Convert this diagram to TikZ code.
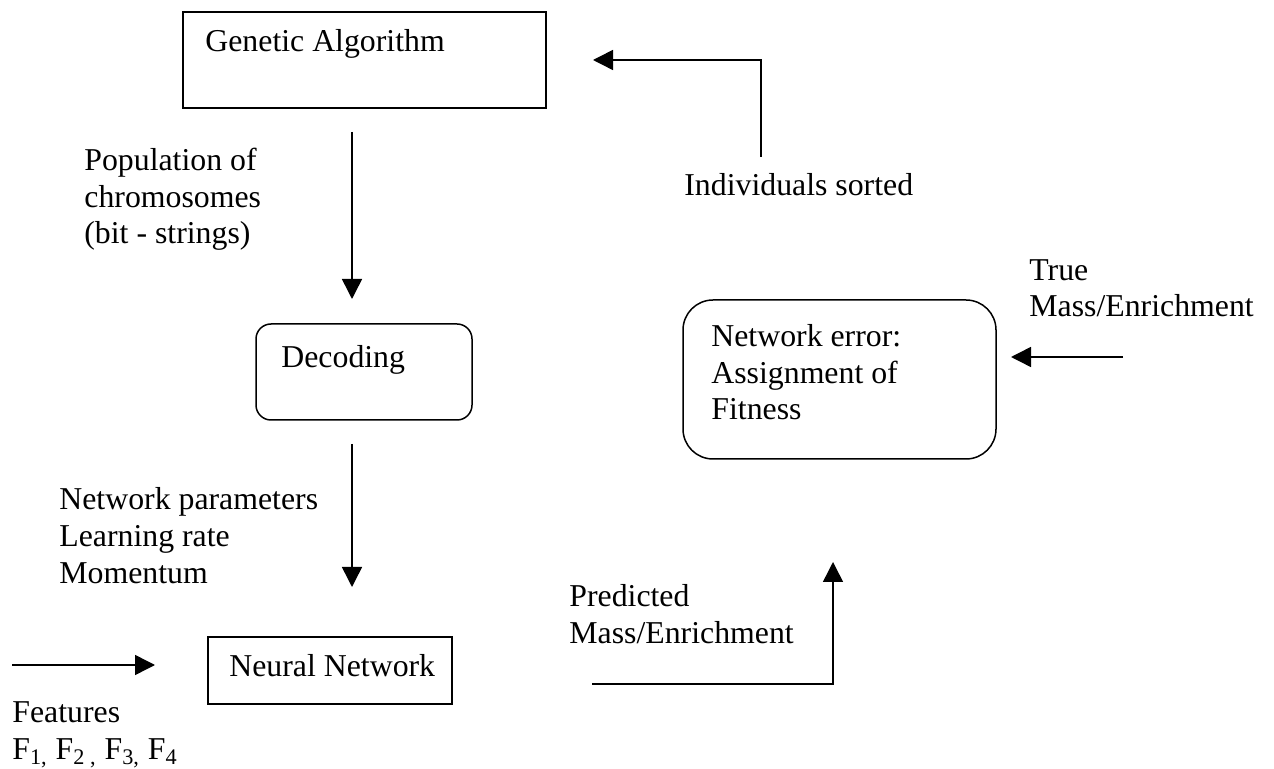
\documentclass[tikz,border=0pt]{standalone}
\usepackage{fontspec}
\setmainfont{Liberation Serif}
\usetikzlibrary{arrows.meta}
\begin{document}
\begin{tikzpicture}[x=0.5pt,y=-0.5pt,
  lbl/.style={anchor=base west,inner sep=0pt,align=left,font=\fontsize{15.9}{18.4}\selectfont},
  sqbox/.style={draw,line width=0.75pt,inner sep=0pt},
  rbox/.style={draw,line width=0.75pt,inner sep=0pt,rounded corners=#1},
  arr/.style={line width=0.75pt,-{Triangle[length=10pt,width=10pt]}}]
\useasboundingbox (0,0) rectangle (1274,769);
% boxes
\node[sqbox,minimum width=181.5pt,minimum height=48pt] (ga) at (364.5,60) {};
\node[lbl] (gat) at (205,52) {Genetic Algorithm};
\node[rbox=7.5pt,minimum width=108pt,minimum height=48pt] (dec) at (364,372) {};
\node[lbl] (dect) at (281,368) {Decoding};
\node[sqbox,minimum width=122pt,minimum height=33.5pt] (nn) at (330,670.5) {};
\node[lbl] (nnt) at (229,676) {Neural Network};
\node[rbox=15pt,minimum width=156.5pt,minimum height=79.5pt] (err) at (839.5,379.5) {};
% multi-line labels: anchor is the baseline of the last line
\node[lbl] (errt) at (711,420) {Network error:\\Assignment of\\Fitness};
\node[lbl] (pop) at (84,244) {Population of\\chromosomes\\(bit - strings)};
\node[lbl] (par) at (59,583) {Network parameters\\Learning rate\\Momentum};
\node[lbl] (ind) at (684,196) {Individuals sorted};
\node[lbl] (tru) at (1029,317) {True\\Mass/Enrichment};
\node[lbl] (pre) at (569,643) {Predicted\\Mass/Enrichment};
\node[lbl] (fea) at (12,759) {Features\\F\textsubscript{1,} F\textsubscript{2 ,} F\textsubscript{3,} F\textsubscript{4}};
% connector ends
\coordinate (a1s) at (352,132);
\coordinate (a1e) at (352,299);
\coordinate (a2s) at (352,444);
\coordinate (a2e) at (352,587);
\coordinate (a3s) at (761,157);
\coordinate (a3c) at (761,60);
\coordinate (a3e) at (593,60);
\coordinate (a4s) at (1123,357);
\coordinate (a4e) at (1011,357);
\coordinate (a5s) at (592,684);
\coordinate (a5c) at (833,684);
\coordinate (a5e) at (833,562);
\coordinate (a6s) at (12,665);
\coordinate (a6e) at (155,665);
\draw[arr] (a1s) -- (a1e);
\draw[arr] (a2s) -- (a2e);
\draw[arr] (a3s) -- (a3c) -- (a3e);
\draw[arr] (a4s) -- (a4e);
\draw[arr] (a5s) -- (a5c) -- (a5e);
\draw[arr] (a6s) -- (a6e);
\end{tikzpicture}
\end{document}
